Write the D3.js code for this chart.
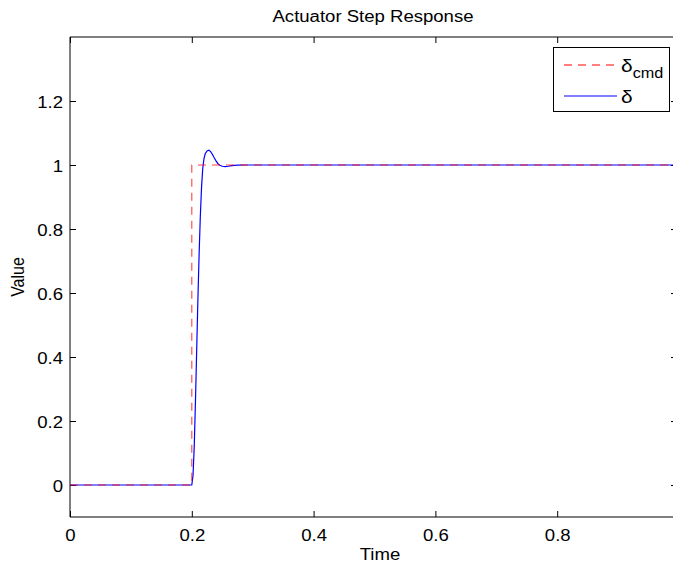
<!DOCTYPE html>
<html>
<head>
<meta charset="utf-8">
<script src="https://cdn.jsdelivr.net/npm/d3@7"></script>
<style>
  html, body { margin: 0; padding: 0; background: #fff; }
  svg { display: block; font-family: "Liberation Sans", Arial, sans-serif; }
</style>
</head>
<body>
<div id="chart"></div>
<script>
// ---- data ----
const title = "Actuator Step Response";
const xLabel = "Time";
const yLabel = "Value";
const xTicks = [0, 0.2, 0.4, 0.6, 0.8, 1];
const xTickLabels = ["0", "0.2", "0.4", "0.6", "0.8", ""];
const yTicks = [0, 0.2, 0.4, 0.6, 0.8, 1, 1.2];
const yTickLabels = ["0", "0.2", "0.4", "0.6", "0.8", "1", "1.2"];
const cmdTime = [0, 0.2, 0.2, 1];
const cmdValue = [0, 0, 1, 1];
const respTime = [0, 0.2, 0.202, 0.204, 0.206, 0.208, 0.210, 0.212, 0.214, 0.216, 0.218, 0.220, 0.222, 0.225, 0.228, 0.231, 0.234, 0.237, 0.240, 0.243, 0.246, 0.250, 0.255, 0.260, 0.266, 0.275, 0.29, 1];
const respValue = [0, 0, 0.03, 0.12, 0.26, 0.42, 0.58, 0.72, 0.84, 0.93, 0.99, 1.02, 1.035, 1.044, 1.046, 1.042, 1.033, 1.022, 1.012, 1.004, 0.999, 0.996, 0.995, 0.996, 0.998, 0.9995, 1, 1];
const legendLabels = ["δ", "δ"];
const legendSubs = ["cmd", ""];

// ---- layout ----
const W = 673, H = 567;
const FS = 16, SX = 1.16;
const svg = d3.select("#chart").append("svg").attr("width", W).attr("height", H);

const x = d3.scaleLinear().domain([0, 1]).range([70, 679]);
const y = d3.scaleLinear().domain([-0.1, 1.4]).range([517, 37]);

const sx = (sel, xx, yy) => sel.attr("transform", `translate(${xx},${yy}) scale(${SX},1)`);

// clip
svg.append("clipPath").attr("id", "clip").append("rect")
  .attr("x", x(0)).attr("y", y(1.4)).attr("width", x(1) - x(0)).attr("height", y(-0.1) - y(1.4));

// axes
const gx = svg.append("g").attr("transform", `translate(0,${y(-0.1)})`)
  .call(d3.axisBottom(x).tickValues(xTicks).tickSizeInner(-6).tickSizeOuter(0).tickPadding(0)
    .tickFormat((d, i) => xTickLabels[i]));
const gy = svg.append("g").attr("transform", `translate(${x(0)},0)`)
  .call(d3.axisLeft(y).tickValues(yTicks).tickSizeInner(-6).tickSizeOuter(0).tickPadding(0)
    .tickFormat((d, i) => yTickLabels[i]));
const gt = svg.append("g").attr("transform", `translate(0,${y(1.4)})`)
  .call(d3.axisTop(x).tickValues(xTicks).tickSizeInner(-6).tickSizeOuter(0).tickFormat(""));
const gr = svg.append("g").attr("transform", `translate(${x(1)},0)`)
  .call(d3.axisRight(y).tickValues(yTicks).tickSizeInner(-8).tickSizeOuter(0).tickFormat(""));
[gx, gy, gt, gr].forEach(g => {
  g.select(".domain").remove();
  g.selectAll("line").attr("stroke", "#000").attr("stroke-width", 1);
});
gx.selectAll("text").attr("font-size", FS).attr("fill", "#000")
  .attr("y", null).attr("dy", null)
  .each(function () { sx(d3.select(this), 0, 24); });
gy.selectAll("text").attr("font-size", FS).attr("fill", "#000")
  .attr("x", null).attr("dy", null)
  .each(function () { sx(d3.select(this), -7, 6); });

// box
svg.append("path")
  .attr("d", `M${x(1)},${y(1.4)}H${x(0)}V${y(-0.1)}H${x(1)}`)
  .attr("fill", "none").attr("stroke", "#000").attr("stroke-width", 1);

// lines
const cmdData = cmdTime.map((t, i) => [t, cmdValue[i]]);
const respData = respTime.map((t, i) => [t, respValue[i]]);
const line = d3.line().x(d => x(d[0])).y(d => y(d[1]));
const plot = svg.append("g").attr("clip-path", "url(#clip)");
plot.append("path").attr("d", line(respData))
  .attr("fill", "none").attr("stroke", "#0000ff").attr("stroke-width", 1.2);
plot.append("path").attr("d", line(cmdData))
  .attr("fill", "none").attr("stroke", "#ff0000").attr("stroke-width", 1.1)
  .attr("stroke-opacity", 0.75).attr("stroke-dasharray", "8,6");

// title & labels
sx(svg.append("text").attr("text-anchor", "middle").attr("font-size", FS).text(title), 373, 22);
sx(svg.append("text").attr("text-anchor", "middle").attr("font-size", FS).text(xLabel), 380, 560);
svg.append("text").attr("text-anchor", "middle").attr("font-size", FS)
  .attr("transform", `translate(24,${y(0.65)}) rotate(-90) scale(1,${SX})`).text(yLabel);

// legend
const lg = svg.append("g");
lg.append("rect").attr("x", 553.5).attr("y", 47.5).attr("width", 116).attr("height", 64)
  .attr("fill", "#fff").attr("stroke", "#000").attr("stroke-width", 1);
const legY = [65, 96];
const legStyles = [{c: "#ff0000", d: "8,6"}, {c: "#0000ff", d: null}];
legY.forEach((ly, i) => {
  lg.append("line").attr("x1", 564).attr("x2", 617).attr("y1", ly).attr("y2", ly)
    .attr("stroke", legStyles[i].c).attr("stroke-width", 1)
    .attr("stroke-dasharray", legStyles[i].d);
  const t = lg.append("text").attr("font-size", FS + 2);
  sx(t, 621, ly + 7);
  t.append("tspan").text(legendLabels[i]);
  if (legendSubs[i]) t.append("tspan").attr("font-size", FS - 2).attr("dy", 6).text(legendSubs[i]);
});
</script>
</body>
</html>
